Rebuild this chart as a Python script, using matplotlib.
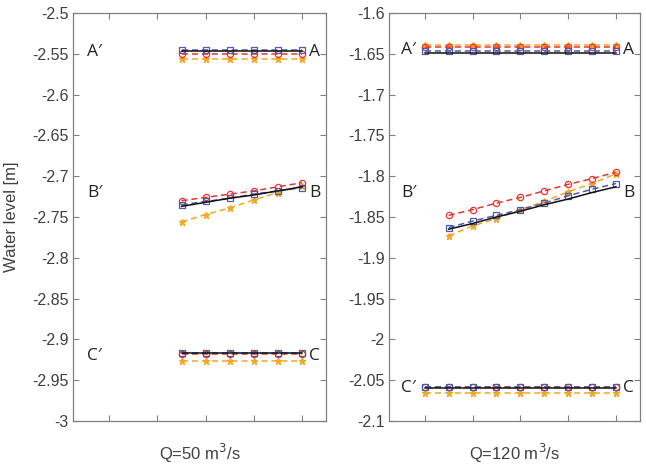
import matplotlib.pyplot as plt

plt.rcParams['font.family'] = ['Liberation Sans', 'DejaVu Sans']

# --- data ---
x_left = [2.5, 3.0, 3.5, 4.0, 4.5, 5.0]
x_right = [1.0, 1.5, 2.0, 2.5, 3.0, 3.5, 4.0, 4.5, 5.0]
x_right_b = [1.5, 2.0, 2.5, 3.0, 3.5, 4.0, 4.5, 5.0]

# Q = 50 m3/s
l_a_black = [-2.547, -2.547, -2.547, -2.547, -2.547, -2.547]
l_a_blue = [-2.545, -2.545, -2.545, -2.545, -2.545, -2.545]
l_a_red = [-2.550, -2.550, -2.550, -2.550, -2.550, -2.550]
l_a_orange = [-2.556, -2.556, -2.556, -2.556, -2.556, -2.556]

l_b_black = [-2.737, -2.732, -2.727, -2.723, -2.718, -2.713]
l_b_blue = [-2.735, -2.731, -2.727, -2.722, -2.718, -2.714]
l_b_red = [-2.730, -2.726, -2.722, -2.718, -2.713, -2.708]
l_b_orange = [-2.756, -2.747, -2.739, -2.729, -2.720, -2.712]

l_c_black = [-2.917, -2.917, -2.917, -2.917, -2.917, -2.917]
l_c_blue = [-2.917, -2.917, -2.917, -2.917, -2.917, -2.917]
l_c_red = [-2.918, -2.918, -2.918, -2.918, -2.918, -2.918]
l_c_orange = [-2.927, -2.927, -2.927, -2.927, -2.927, -2.927]

# Q = 120 m3/s
r_a_black = [-1.649] * 9
r_a_blue = [-1.646] * 9
r_a_red = [-1.642] * 9
r_a_orange = [-1.639] * 9

r_b_black = [-1.865, -1.858, -1.850, -1.843, -1.835, -1.828, -1.820, -1.813]
r_b_blue = [-1.863, -1.855, -1.848, -1.841, -1.833, -1.824, -1.816, -1.809]
r_b_red = [-1.848, -1.841, -1.833, -1.826, -1.818, -1.810, -1.803, -1.795]
r_b_orange = [-1.873, -1.861, -1.852, -1.841, -1.831, -1.819, -1.809, -1.797]

r_c_black = [-2.059] * 9
r_c_blue = [-2.058] * 9
r_c_red = [-2.058] * 9
r_c_orange = [-2.066] * 9

# --- styles ---
BLACK = '#111111'
BLUE = '#4a5bb0'
RED = '#e8352f'
ORANGE = '#f5a623'
GREY = '#808080'
TXT = '#404040'


def draw_group(ax, x, black, blue, red, orange, xb=None):
    xb = x if xb is None else xb
    ax.plot(x, orange, '--', color=ORANGE, lw=1.1, marker='*', ms=4.5,
            dashes=(4, 2.5))
    ax.plot(x, red, '--', color=RED, lw=1.1, marker='o', ms=4.5, mfc='none',
            mew=0.9, dashes=(4, 2.5))
    ax.plot(x, blue, '--', color=BLUE, lw=1.1, marker='s', ms=4.5, mfc='none',
            mew=0.9, dashes=(4, 2.5))
    ax.plot(xb, black, '-', color=BLACK, lw=1.1)


def style_axes(ax, lo, hi, ticks, xlabel):
    ax.set_xlim(0.25, 5.5)
    ax.set_ylim(lo, hi)
    ax.set_xticks([1, 2, 3, 4, 5])
    ax.set_xticklabels([])
    ax.set_yticks(ticks)
    ax.set_yticklabels(['%g' % v for v in ticks])
    ax.tick_params(direction='in', length=4, width=0.8, color=GREY,
                   labelsize=11.5, labelcolor=TXT, top=True, right=True, pad=3)
    for s in ax.spines.values():
        s.set_color(GREY)
        s.set_linewidth(0.9)
    ax.set_xlabel(xlabel, fontsize=12, color=TXT, labelpad=12)


fig = plt.figure(figsize=(6.46, 4.67), dpi=100)
ax1 = fig.add_axes([0.113, 0.0985, 0.392, 0.8737])
ax2 = fig.add_axes([0.602, 0.0985, 0.3885, 0.8737])

draw_group(ax1, x_left, l_a_black, l_a_blue, l_a_red, l_a_orange)
draw_group(ax1, x_left, l_b_black, l_b_blue, l_b_red, l_b_orange)
draw_group(ax1, x_left, l_c_black, l_c_blue, l_c_red, l_c_orange)

draw_group(ax2, x_right, r_a_black, r_a_blue, r_a_red, r_a_orange)
draw_group(ax2, x_right_b, r_b_black, r_b_blue, r_b_red, r_b_orange)
draw_group(ax2, x_right, r_c_black, r_c_blue, r_c_red, r_c_orange)

lt = [-2.5, -2.55, -2.6, -2.65, -2.7, -2.75, -2.8, -2.85, -2.9, -2.95, -3]
style_axes(ax1, -3.0, -2.5, lt, 'Q=50 m$^3$/s')
rt = [-1.6, -1.65, -1.7, -1.75, -1.8, -1.85, -1.9, -1.95, -2, -2.05, -2.1]
style_axes(ax2, -2.1, -1.6, rt, 'Q=120 m$^3$/s')
ax1.set_ylabel('Water level [m]', fontsize=12, color=TXT)
ax1.yaxis.set_label_coords(-0.215, 0.5)

# section labels
kw = dict(fontsize=12.5, color='#222222', va='center',
          family=['Open Sans', 'DejaVu Sans'])
ax1.text(0.55, -2.548, 'A\u2032', **kw)
ax1.text(5.15, -2.548, 'A', **kw)
ax1.text(0.55, -2.720, 'B\u2032', **kw)
ax1.text(5.15, -2.720, 'B', **kw)
ax1.text(0.55, -2.920, 'C\u2032', **kw)
ax1.text(5.15, -2.920, 'C', **kw)

ax2.text(0.5, -1.645, 'A\u2032', **kw)
ax2.text(5.15, -1.645, 'A', **kw)
ax2.text(0.5, -1.820, 'B\u2032', **kw)
ax2.text(5.15, -1.820, 'B', **kw)
ax2.text(0.5, -2.060, 'C\u2032', **kw)
ax2.text(5.15, -2.060, 'C', **kw)

fig.savefig('out.png', dpi=100)
